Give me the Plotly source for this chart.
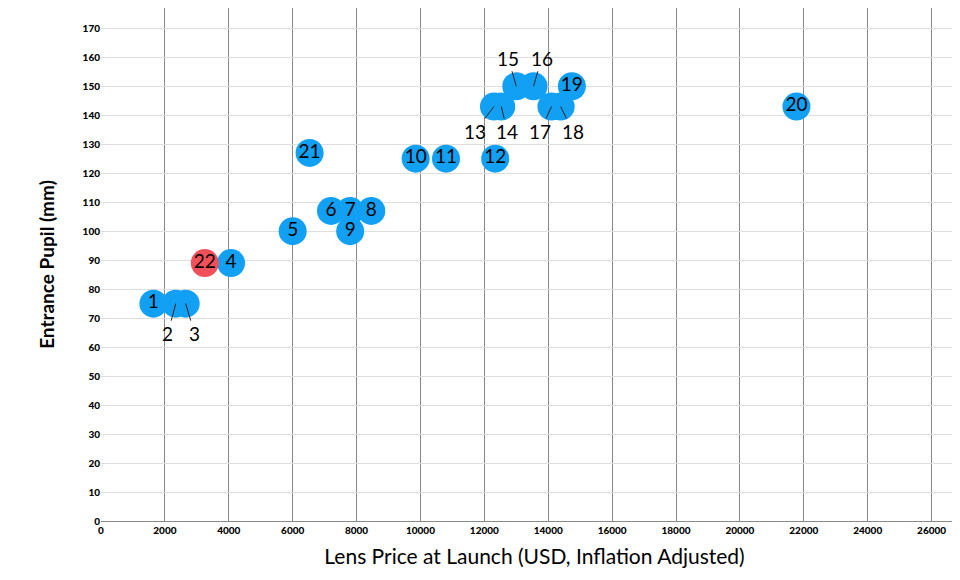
import plotly.graph_objects as go

# lens number, launch price (USD, inflation adjusted), entrance pupil (mm)
ids = [1, 2, 3, 4, 5, 6, 7, 8, 9, 10, 11, 12, 13, 14, 15, 16, 17, 18, 19, 20, 21, 22]
prices = [1640, 2340, 2650, 4070, 6000, 7200, 7800, 8460, 7800, 9850, 10800, 12340,
          12300, 12530, 13000, 13540, 14100, 14390, 14740, 21770, 6530, 3250]
pupils = [75, 75, 75, 89, 100, 107, 107, 107, 100, 125, 125, 125,
          143, 143, 150, 150, 143, 143, 150, 143, 127, 89]
highlight = [22]

# labels pulled out of the marker with a leader line: id -> (dx, dy) px
callouts = {2: (-8, 30), 3: (9, 30), 13: (-19, 25), 14: (6, 25),
            15: (-8, -28), 16: (8, -28), 17: (-11, 25), 18: (12, 25)}

colours = ["#F0505A" if i in highlight else "#12A0F4" for i in ids]
texts = ["" if i in callouts else str(i) for i in ids]

fig = go.Figure(go.Scatter(
    x=prices, y=pupils, mode="markers+text", text=texts,
    textposition="middle center",
    textfont=dict(size=19, color="black", family="Lato"),
    marker=dict(size=28, color=colours, line=dict(width=0)),
    hoverinfo="x+y",
))

for i, x, y in zip(ids, prices, pupils):
    if i in callouts:
        dx, dy = callouts[i]
        fig.add_annotation(x=x, y=y, text=str(i), showarrow=True, arrowhead=0,
                           arrowwidth=1, arrowcolor="#222", ax=dx, ay=dy,
                           font=dict(size=19, color="black", family="Lato"))

fig.update_layout(
    width=960, height=580, plot_bgcolor="white", paper_bgcolor="white",
    margin=dict(l=93, r=0, t=0, b=67), showlegend=False,
    font=dict(family="Lato", color="black"),
    xaxis=dict(range=[0, 27140], dtick=2000, tickformat="d", showgrid=True,
               gridcolor="#8a8a8a", gridwidth=1, zeroline=False, showline=True,
               linecolor="#8a8a8a", tickfont=dict(size=10, family="Lato Black"),
               ticks="", automargin=False,
               title=dict(text="Lens Price at Launch (USD, Inflation Adjusted)",
                          font=dict(size=21), standoff=14)),
    yaxis=dict(range=[0, 177], dtick=10, showgrid=True, gridcolor="#dedede",
               zeroline=False, tickfont=dict(size=10, family="Lato Black"), ticks="",
               automargin=False,
               title=dict(text="<b>Entrance Pupil (mm)</b>", font=dict(size=19),
                          standoff=22)),
)

fig.write_html("out.html")
